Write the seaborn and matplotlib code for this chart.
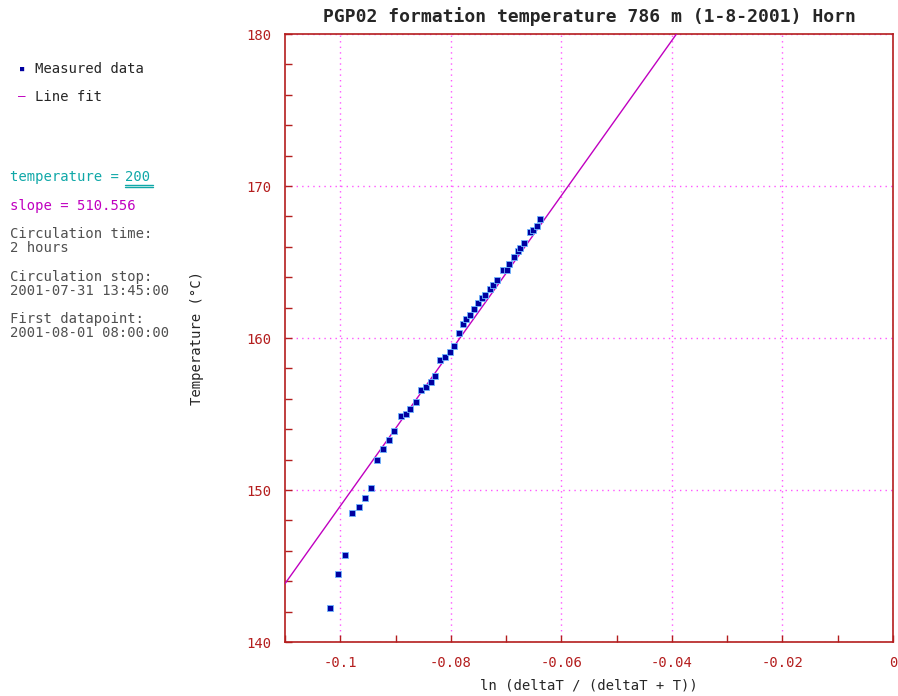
import matplotlib
matplotlib.use("Agg")
import matplotlib.pyplot as plt
import seaborn as sns
import numpy as np
import pandas as pd
from matplotlib.ticker import MultipleLocator

# ---- data ----
ln_ratio = [-0.1018, -0.1004, -0.0992, -0.0978, -0.0966, -0.0955, -0.0945, -0.0933,
            -0.0922, -0.0912, -0.0902, -0.0891, -0.0881, -0.0873, -0.0863, -0.0854,
            -0.0845, -0.0835, -0.0828, -0.0820, -0.0811, -0.0802, -0.0794, -0.0786,
            -0.0778, -0.0773, -0.0765, -0.0758, -0.0750, -0.0743, -0.0738, -0.0730,
            -0.0724, -0.0717, -0.0705, -0.0698, -0.0694, -0.0686, -0.0679, -0.0674,
            -0.0667, -0.0657, -0.0651, -0.0644, -0.0638]
temperature = [142.26, 144.47, 145.7, 148.5, 148.9, 149.5, 150.1, 151.95,
               152.7, 153.3, 153.9, 154.85, 155.0, 155.3, 155.8, 156.6,
               156.8, 157.1, 157.5, 158.55, 158.75, 159.1, 159.5, 160.3,
               160.9, 161.25, 161.5, 161.9, 162.3, 162.6, 162.8, 163.2,
               163.5, 163.8, 164.5, 164.5, 164.9, 165.3, 165.7, 165.9,
               166.25, 166.95, 167.1, 167.4, 167.8]
fit_intercept = 200
fit_slope = 510.556
fit_x_range = [-0.11, 0.0]

x_ticks = [-0.1, -0.08, -0.06, -0.04, -0.02, 0]
x_tick_labels = ["-0.1", "-0.08", "-0.06", "-0.04", "-0.02", "0"]
y_ticks = [140, 150, 160, 170, 180]

title = "PGP02 formation temperature 786 m (1-8-2001) Horn"

sns.set_style("white")
plt.rcParams['font.family'] = ['DejaVu Sans Mono', 'DejaVu Sans']

fig = plt.figure(figsize=(8.98, 6.96), dpi=100)
ax = fig.add_axes([285/898, 54/696, 608/898, 608/696])

red = "#b41e1e"
grid_c = "#ff55ff"

df = pd.DataFrame({"x": ln_ratio, "T": temperature})
fit_df = pd.DataFrame({"x": fit_x_range,
                       "T": [fit_intercept + fit_slope * v for v in fit_x_range]})

sns.lineplot(data=fit_df, x="x", y="T", ax=ax, color="#c000c0", linewidth=1.0, zorder=3)
sns.scatterplot(data=df, x="x", y="T", ax=ax, marker="s", s=16, color="#0000a0",
                edgecolor="#6fb6ff", linewidth=0.6, zorder=4)

ax.set_xlim(-0.11, 0)
ax.set_ylim(140, 180)
ax.set_xticks(x_ticks)
ax.set_xticklabels(x_tick_labels)
ax.set_yticks(y_ticks)
ax.xaxis.set_minor_locator(MultipleLocator(0.01))
ax.yaxis.set_minor_locator(MultipleLocator(2))
ax.tick_params(axis="both", which="both", direction="in", color=red, labelcolor=red,
               labelsize=10, length=5, width=1, bottom=True, left=True,
               top=False, right=False)
ax.tick_params(axis="x", which="major", pad=10)
ax.tick_params(axis="y", which="major", pad=10)
for s in ax.spines.values():
    s.set_color(red)
    s.set_linewidth(1.2)
ax.grid(True, which="major", color=grid_c, linestyle=(0, (1, 3)), linewidth=1.0)
ax.grid(False, which="minor")
ax.set_axisbelow(True)

ax.set_xlabel("ln (deltaT / (deltaT + T))", fontsize=10, labelpad=6)
ax.set_ylabel("Temperature (°C)", fontsize=10, labelpad=30)
ax.set_title(title, fontsize=13, fontweight="bold", pad=9)

# ---- left side legend / info ----
def fy(py):
    return 1 - py / 696

fig.text(22/898, fy(69), "■", color="#0000a0", fontsize=5, va="center", ha="center")
fig.text(35/898, fy(69), "Measured data", fontsize=10, va="center")
fig.text(22/898, fy(97), "–", color="#c000c0", fontsize=9, va="center", ha="center")
fig.text(35/898, fy(97), "Line fit", fontsize=10, va="center")

cyan = "#10a8a8"
fig.text(10/898, fy(177), "temperature = ", color=cyan, fontsize=10, va="center")
fig.text(125/898, fy(177), "200", color=cyan, fontsize=10, va="center")
fig.add_artist(plt.Line2D([125/898, 153/898], [fy(184.5), fy(184.5)], color=cyan, lw=1))
fig.add_artist(plt.Line2D([125/898, 153/898], [fy(187), fy(187)], color=cyan, lw=1))
fig.text(10/898, fy(206), "slope = 510.556", color="#c000c0", fontsize=10, va="center")

grey = "#505050"
fig.text(10/898, fy(241), "Circulation time:\n2 hours", color=grey, fontsize=10,
         va="center", linespacing=1.0)
fig.text(10/898, fy(284), "Circulation stop:\n2001-07-31 13:45:00", color=grey,
         fontsize=10, va="center", linespacing=1.0)
fig.text(10/898, fy(326), "First datapoint:\n2001-08-01 08:00:00", color=grey,
         fontsize=10, va="center", linespacing=1.0)

fig.savefig("out.png", dpi=100)
